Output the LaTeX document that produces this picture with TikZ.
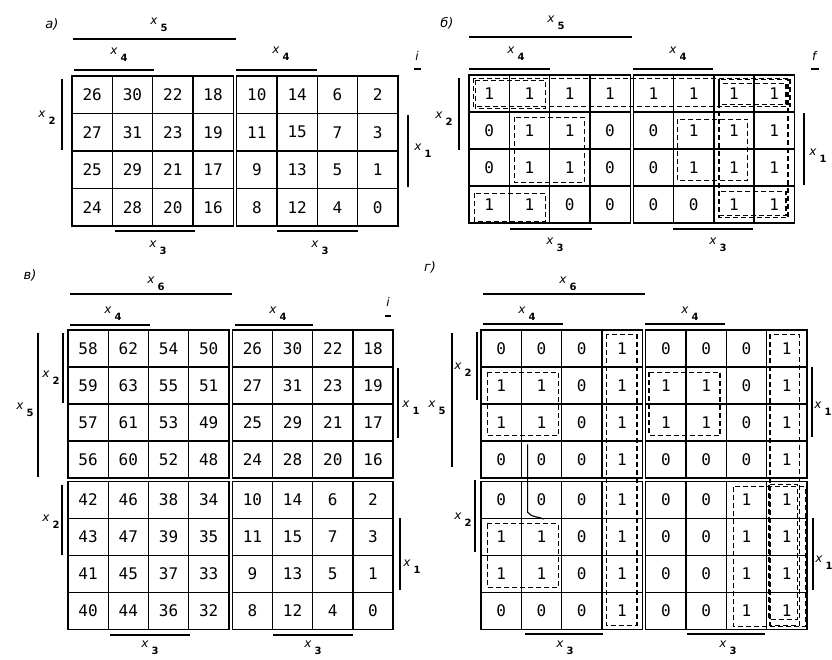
\documentclass[tikz,border=0pt]{standalone}
\usepackage{fontspec}
\setmainfont{DejaVu Sans}
\newfontfamily\cellfont{DejaVu Sans Mono}
\usetikzlibrary{calc}
\newcommand{\xl}[1]{\textit{x}\kern3pt\raisebox{-7pt}{\fontsize{10}{10}\selectfont\bfseries #1}}
\newcommand{\kmap}[7]{%
  \foreach \rowdata [count=\r] in {#7} {
    \foreach \v [count=\c] in \rowdata {
      \pgfmathsetmacro{\cx}{#2 + (\c-0.5)*#4 + (\c>4)*#6}
      \pgfmathsetmacro{\cy}{#3 + (\r-0.5)*#5 + (\r>4)*#6}
      \node[cell, minimum width=#4pt, minimum height=#5pt] (#1-\r-\c) at (\cx,\cy) {\v};
    }
  }
}
\begin{document}
\begin{tikzpicture}[x=1pt, y=-1pt,
  cell/.style={draw, line width=1.4pt, inner sep=0pt, font=\cellfont\fontsize{16}{16}\selectfont},
  lbl/.style={inner sep=0pt, font=\fontsize{12}{12}\selectfont},
  tag/.style={inner sep=0pt, font=\fontsize{13}{13}\selectfont\itshape},
  bar/.style={line width=1.3pt},
  grp/.style={dash pattern=on 5pt off 3pt, line width=1.3pt},
  extra/.style={line width=1.1pt}]
\useasboundingbox (0,0) rectangle (832,660);

% ---------------- map a ----------------
\kmap{a}{72}{76}{40.3}{37.5}{3.5}{{26,30,22,18,10,14,6,2},{27,31,23,19,11,15,7,3},{25,29,21,17,9,13,5,1},{24,28,20,16,8,12,4,0}}
\node[tag] (a-tag) at (52,24) {а)};
\node[lbl] (a-x5) at (159,25) {\xl{5}};
\draw[bar] (73,39) -- (236,39);
\node[lbl] (a-x4l) at (119,55) {\xl{4}};
\draw[bar] (74,70) -- (154,70);
\node[lbl] (a-x4r) at (281,54) {\xl{4}};
\draw[bar] (236,70) -- (317,70);
\node[lbl] (a-i) at (417,56) {\textit{i}};
\draw[bar] (414,69) -- (421,69);
\node[lbl] (a-x2) at (47,118) {\xl{2}};
\draw[bar] (62,79) -- (62,150);
\node[lbl] (a-x1) at (423,151) {\xl{1}};
\draw[bar] (408,115) -- (408,187);
\node[lbl] (a-x3l) at (158,248) {\xl{3}};
\draw[bar] (115,231) -- (195,231);
\node[lbl] (a-x3r) at (320,248) {\xl{3}};
\draw[bar] (277,231) -- (358,231);

% ---------------- map b ----------------
\kmap{b}{469}{75}{40.3}{37}{3}{{1,1,1,1,1,1,1,1},{0,1,1,0,0,1,1,1},{0,1,1,0,0,1,1,1},{1,1,0,0,0,0,1,1}}
\node[tag] (b-tag) at (447,23) {б)};
\node[lbl] (b-x5) at (556,23) {\xl{5}};
\draw[bar] (469,37) -- (632,37);
\node[lbl] (b-x4l) at (516,54) {\xl{4}};
\draw[bar] (469,69) -- (550,69);
\node[lbl] (b-x4r) at (678,54) {\xl{4}};
\draw[bar] (633,69) -- (713,69);
\node[lbl] (b-f) at (815,56) {\textit{f}};
\draw[bar] (811,69) -- (819,69);
\node[lbl] (b-x2) at (444,119) {\xl{2}};
\draw[bar] (459,78) -- (459,150);
\node[lbl] (b-x1) at (818,156) {\xl{1}};
\draw[bar] (804,113) -- (804,185);
\node[lbl] (b-x3l) at (555,245) {\xl{3}};
\draw[bar] (510,229) -- (592,229);
\node[lbl] (b-x3r) at (718,245) {\xl{3}};
\draw[bar] (673,229) -- (753,229);
% groups
\draw[grp] ([shift={(5,4)}]b-1-1.north west) rectangle ([shift={(-5,-6)}]b-1-8.south east);
\draw[grp] ([shift={(7,6)}]b-1-1.north west) rectangle ([shift={(-5,-4)}]b-1-2.south east);
\draw[grp] ([shift={(6,9)}]b-1-7.north west) rectangle ([shift={(-9,-8)}]b-1-8.south east);
\draw[grp] ([shift={(6,6)}]b-2-2.north west) rectangle ([shift={(-6,-4)}]b-3-3.south east);
\draw[grp] ([shift={(5,8)}]b-2-6.north west) rectangle ([shift={(-7,-6)}]b-3-7.south east);
\draw[grp] ([shift={(6,5)}]b-1-7.north west) rectangle ([shift={(-7,-6)}]b-4-8.south east);
\draw[grp] ([shift={(6,8)}]b-4-1.north west) rectangle ([shift={(-5,-2)}]b-4-2.south east);
\draw[grp] ([shift={(6,6)}]b-4-7.north west) rectangle ([shift={(-9,-8)}]b-4-8.south east);

% ---------------- map c ----------------
\kmap{c}{68}{330}{40.2}{37}{3.5}{{58,62,54,50,26,30,22,18},{59,63,55,51,27,31,23,19},{57,61,53,49,25,29,21,17},{56,60,52,48,24,28,20,16},{42,46,38,34,10,14,6,2},{43,47,39,35,11,15,7,3},{41,45,37,33,9,13,5,1},{40,44,36,32,8,12,4,0}}
\node[tag] (c-tag) at (30,275) {в)};
\node[lbl] (c-x6) at (156,284) {\xl{6}};
\draw[bar] (70,294) -- (232,294);
\node[lbl] (c-x4l) at (113,314) {\xl{4}};
\draw[bar] (70,325) -- (150,325);
\node[lbl] (c-x4r) at (278,314) {\xl{4}};
\draw[bar] (235,325) -- (313,325);
\node[lbl] (c-i) at (388,302) {\textit{i}};
\draw[bar] (385,316) -- (391,316);
\node[lbl] (c-x5) at (25,410) {\xl{5}};
\draw[bar] (38,333) -- (38,477);
\node[lbl] (c-x2u) at (51,378) {\xl{2}};
\draw[bar] (63,333) -- (63,403);
\node[lbl] (c-x2d) at (51,522) {\xl{2}};
\draw[bar] (62,485) -- (62,555);
\node[lbl] (c-x1u) at (411,408) {\xl{1}};
\draw[bar] (398,368) -- (398,438);
\node[lbl] (c-x1d) at (412,567) {\xl{1}};
\draw[bar] (400,518) -- (400,590);
\node[lbl] (c-x3l) at (150,648) {\xl{3}};
\draw[bar] (110,635) -- (190,635);
\node[lbl] (c-x3r) at (313,648) {\xl{3}};
\draw[bar] (273,635) -- (353,635);

% ---------------- map d ----------------
\kmap{d}{481}{330}{40.3}{37}{3.5}{{0,0,0,1,0,0,0,1},{1,1,0,1,1,1,0,1},{1,1,0,1,1,1,0,1},{0,0,0,1,0,0,0,1},{0,0,0,1,0,0,1,1},{1,1,0,1,0,0,1,1},{1,1,0,1,0,0,1,1},{0,0,0,1,0,0,1,1}}
\node[tag] (d-tag) at (430,267) {г)};
\node[lbl] (d-x6) at (568,284) {\xl{6}};
\draw[bar] (483,294) -- (645,294);
\node[lbl] (d-x4l) at (527,314) {\xl{4}};
\draw[bar] (483,324) -- (563,324);
\node[lbl] (d-x4r) at (690,314) {\xl{4}};
\draw[bar] (645,324) -- (725,324);
\node[lbl] (d-x2u) at (463,370) {\xl{2}};
\draw[bar] (477,332) -- (477,400);
\node[lbl] (d-x5) at (437,408) {\xl{5}};
\draw[bar] (452,333) -- (452,467);
\node[lbl] (d-x2d) at (463,520) {\xl{2}};
\draw[bar] (475,480) -- (475,552);
\node[lbl] (d-x1u) at (823,409) {\xl{1}};
\draw[bar] (812,367) -- (812,437);
\node[lbl] (d-x1d) at (824,563) {\xl{1}};
\draw[bar] (813,518) -- (813,590);
\node[lbl] (d-x3l) at (565,648) {\xl{3}};
\draw[bar] (525,634) -- (603,634);
\node[lbl] (d-x3r) at (728,648) {\xl{3}};
\draw[bar] (687,634) -- (765,634);
% groups
\draw[grp] ([shift={(5,5)}]d-1-4.north west) rectangle ([shift={(-6,-5)}]d-8-4.south east);
\draw[grp] ([shift={(7,6)}]d-2-1.north west) rectangle ([shift={(-4,-6)}]d-3-2.south east);
\draw[grp] ([shift={(7,6)}]d-6-1.north west) rectangle ([shift={(-4,-6)}]d-7-2.south east);
\draw[grp] ([shift={(4,6)}]d-2-5.north west) rectangle ([shift={(-7,-6)}]d-3-6.south east);
\draw[grp] ([shift={(4,5)}]d-1-8.north west) rectangle ([shift={(-8,-5)}]d-8-8.south east);
\draw[grp] ([shift={(8,6)}]d-5-7.north west) rectangle ([shift={(-2,-4)}]d-8-8.south east);
\draw[grp] ([shift={(3,4)}]d-5-8.north west) rectangle ([shift={(-10,-11)}]d-8-8.south east);
% stray strokes
\draw[extra] ([shift={(7,4)}]d-4-2.north west) -- ([shift={(7,-7)}]d-5-2.south west)
  .. controls +(4,6) and +(-4,-3) .. +(16,7);
\end{tikzpicture}
\end{document}
